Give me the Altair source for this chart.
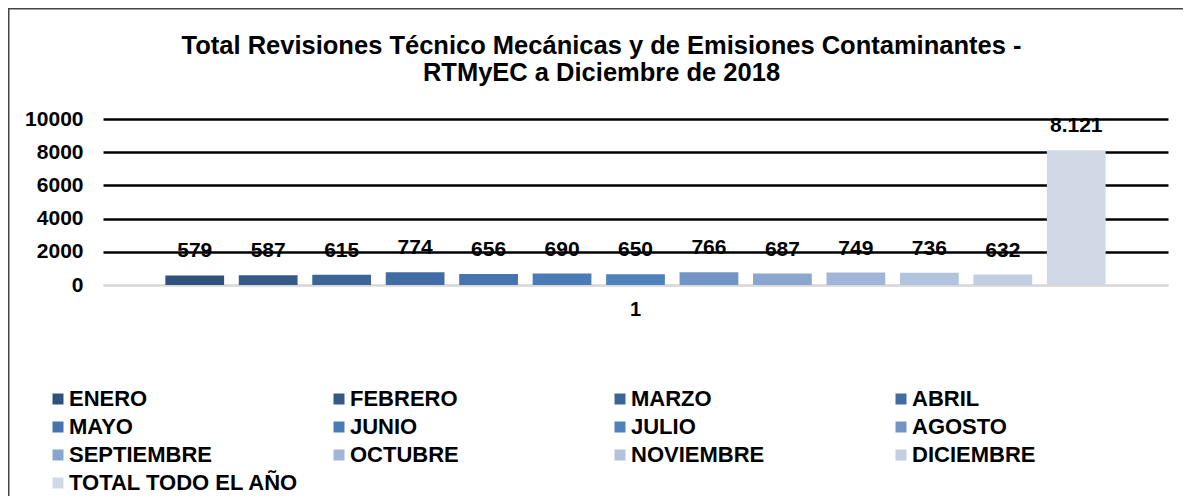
import altair as alt
import pandas as pd

meses = ["ENERO", "FEBRERO", "MARZO", "ABRIL", "MAYO", "JUNIO", "JULIO", "AGOSTO",
         "SEPTIEMBRE", "OCTUBRE", "NOVIEMBRE", "DICIEMBRE", "TOTAL TODO EL AÑO"]
valores = [579, 587, 615, 774, 656, 690, 650, 766, 687, 749, 736, 632, 8121]
colores = ["#30517B", "#365A88", "#3C6497", "#416DA4", "#4674AD", "#4A7BB6", "#4F81BD",
           "#7395C6", "#8AA6CF", "#A0B5D7", "#B2C3DE", "#C2CEE3", "#D1D9E7"]
grupo = "1"
ticks_y = [0, 2000, 4000, 6000, 8000, 10000]
titulo = ["Total Revisiones Técnico Mecánicas y de Emisiones Contaminantes -",
          "RTMyEC a Diciembre de 2018"]

df = pd.DataFrame({
    "mes": meses,
    "valor": valores,
    "grupo": [grupo] * len(meses),
    "etiqueta": [f"{v:,}".replace(",", ".") for v in valores],
})

FONT = "Liberation Sans"

x_enc = alt.X("grupo:N", title=None,
              scale=alt.Scale(paddingInner=0, paddingOuter=0.0576),
              axis=alt.Axis(labelAngle=0, labelFont=FONT, labelFontSize=20,
                            labelFontWeight="bold", labelColor="black",
                            ticks=False, domainColor="#d9d9d9", domainWidth=2,
                            labelPadding=14))
xo_enc = alt.XOffset("mes:N", sort=meses,
                     scale=alt.Scale(paddingInner=0.2, paddingOuter=0.1))
y_enc = alt.Y("valor:Q", title=None,
              scale=alt.Scale(domain=[0, 10000], nice=False),
              axis=alt.Axis(values=ticks_y, format="d",
                            labelFont=FONT, labelFontSize=21, labelFontWeight="bold",
                            labelColor="black", ticks=False, domain=False,
                            labelPadding=20, labelOverlap=False,
                            gridColor=alt.condition("datum.value == 0",
                                                    alt.value("#d9d9d9"),
                                                    alt.value("black")),
                            gridWidth=2.5))

base = alt.Chart(df)

bars = base.mark_bar().encode(
    x=x_enc,
    xOffset=xo_enc,
    y=y_enc,
    color=alt.Color("mes:N", sort=meses,
                    scale=alt.Scale(domain=meses, range=colores),
                    legend=alt.Legend(title=None, orient="none", legendX=-56, legendY=269,
                                      direction="horizontal",
                                      columns=4, gridAlign="all", columnPadding=29,
                                      rowPadding=6, symbolType="square", symbolSize=121,
                                      symbolStrokeWidth=0, labelFont=FONT,
                                      labelFontSize=22, labelFontWeight="bold",
                                      labelColor="black", labelLimit=400,
                                      labelOffset=0, padding=0)),
)

labels = base.mark_text(font=FONT, fontSize=21, fontWeight="bold", color="black",
                        baseline="middle", dy=-24).encode(
    x=x_enc,
    xOffset=xo_enc,
    y=y_enc,
    text="etiqueta:N",
)

frame = alt.Chart(pd.DataFrame({"k": [0]})).mark_rect(
    filled=False, stroke="#444444", strokeWidth=1.5
).encode(
    x=alt.value(-94.25), x2=alt.value(1100),
    y=alt.value(-110.25), y2=alt.value(400),
)

chart = alt.layer(bars, labels, frame).properties(
    width=1065, height=166,
    padding={"left": 95, "top": 111, "right": 15, "bottom": 211},
    autosize=alt.AutoSizeParams(type="none"),
    title=alt.TitleParams(text=titulo, font=FONT, fontSize=25.5, fontWeight="bold",
                          color="black", anchor="middle", dx=-34, offset=-78,
                          lineHeight=27),
).configure(font=FONT, view=alt.ViewConfig(stroke="transparent", strokeWidth=0))

chart.save("out.html", embed_options={"renderer": "svg", "actions": False})
